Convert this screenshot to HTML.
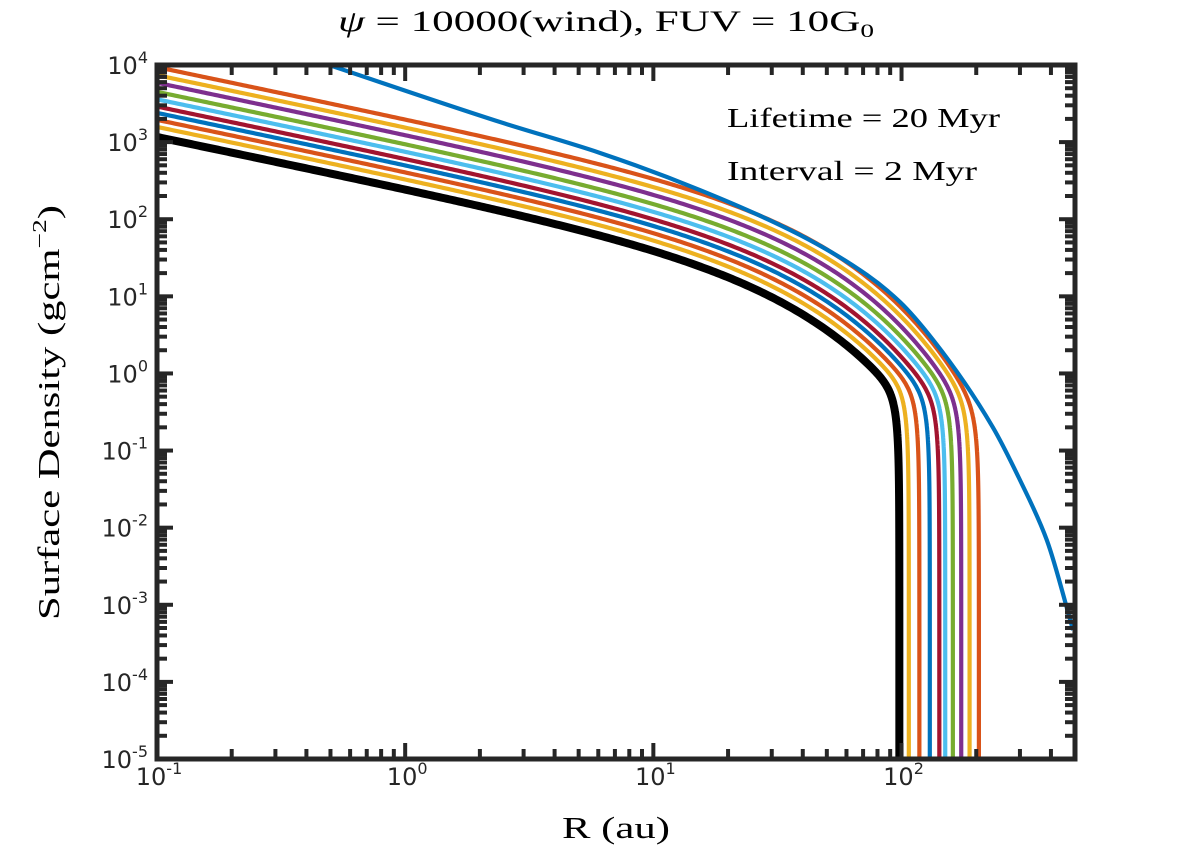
<!DOCTYPE html>
<html><head><meta charset="utf-8"><style>
html,body{margin:0;padding:0;background:#fff;overflow:hidden;width:1188px;height:860px;}
svg{display:block;}
.tk{font-family:"DejaVu Sans","Liberation Sans",sans-serif;font-size:24px;fill:#262626;}
.sr{font-family:"Liberation Serif",serif;fill:#000;}
</style></head><body>
<svg id="chart" width="1188" height="860" viewBox="0 0 1188 860" xmlns="http://www.w3.org/2000/svg">
<text class="sr" x="338" y="31" font-size="30" textLength="536" lengthAdjust="spacingAndGlyphs"><tspan font-style="italic">ψ</tspan> = 10000(wind), FUV = 10G<tspan font-size="19" dy="6">0</tspan></text>
<text class="sr" transform="translate(59,620) rotate(-90)" font-size="31" textLength="415" lengthAdjust="spacingAndGlyphs">Surface Density (gcm<tspan font-size="20" dy="-13">−2</tspan><tspan dy="13">)</tspan></text>
<text class="sr" x="562" y="838" font-size="31" textLength="108" lengthAdjust="spacingAndGlyphs">R (au)</text>
<g id="marks"></g>
<g id="axes"></g>
<text class="sr" x="727" y="127" font-size="27" textLength="273" lengthAdjust="spacingAndGlyphs">Lifetime = 20 Myr</text>
<text class="sr" x="727" y="180" font-size="27" textLength="250" lengthAdjust="spacingAndGlyphs">Interval = 2 Myr</text>
</svg>
<script>
// ---- data ----
const xTickExps = [-1, 0, 1, 2];
const yTickExps = [4, 3, 2, 1, 0, -1, -2, -3, -4, -5];
const curveNames = ["t0","t2","t4","t6","t8","t10","t12","t14","t16","t18"];
const sigmaInner = [1170, 1580, 1950, 2400, 2900, 3600, 4500, 5900, 7400, 9400]; // at R=0.1 au
const truncRadius = [98, 107, 118, 130, 142, 150, 161, 174, 188, 205];
const taperRadius = [31, 32, 33, 34, 35, 36, 37, 37.5, 38.5, 39];
const curveColors = ["#000000","#EDB120","#D95319","#0072BD","#A2142F","#4DBEEE","#77AC30","#7E2F8E","#EDB120","#D95319"];
const slope = 0.67, edgeSharpness = 20;
const windR = [0.467, 2.41, 6.10, 15.4, 39.0, 72.6, 98.6, 134, 233, 300, 385, 491];
const windSigma = [10600, 1820, 723, 239, 62.4, 18.9, 8.43, 2.72, 0.202, 0.0415, 0.0069, 0.00047];

// ---- axes functions ----
const L=157, R=1075, T=65, B=759;
const xMinE=-1, xMaxE=Math.log10(500), yMinE=-5, yMaxE=4;
const xs = r => L + (Math.log10(r)-xMinE)/(xMaxE-xMinE)*(R-L);
const ys = s => B - (Math.log10(s)-yMinE)/(yMaxE-yMinE)*(B-T);
const NS="http://www.w3.org/2000/svg";
function mk(tag, attrs, parent){const e=document.createElementNS(NS,tag);for(const k in attrs)e.setAttribute(k,attrs[k]);parent.appendChild(e);return e;}
const marks=document.getElementById('marks'), axes=document.getElementById('axes');

const defs=mk('defs',{},marks);
const cp=mk('clipPath',{id:'clip'},defs);
mk('rect',{x:L,y:T,width:R-L,height:B-T},cp);
const g=mk('g',{'clip-path':'url(#clip)'},marks);

function profile(i,r){
  const x=r/truncRadius[i];
  const edge=1-Math.pow(x,edgeSharpness);
  return sigmaInner[i]*Math.pow(r/0.1,-slope)*Math.exp(-r/taperRadius[i])*edge;
}
for(let i=0;i<sigmaInner.length;i++){
  let pts=[];
  const rt=truncRadius[i];
  for(let k=0;k<=300;k++){const r=0.1*Math.pow(rt*0.9/0.1,k/300);pts.push([r,profile(i,r)]);}
  for(let k=1;k<=400;k++){const r=rt*(0.9+0.1*(1-Math.pow(1-k/400,3)));const v=profile(i,r);if(v<=1e-7){pts.push([r,1e-7]);break;}pts.push([r,v]);}
  if(pts[pts.length-1][1]>1e-7)pts.push([rt,1e-7]);
  const d=pts.map((p,j)=>(j?'L':'M')+xs(p[0]).toFixed(2)+','+ys(p[1]).toFixed(2)).join('');
  const p=mk('path',{d:d,fill:'none',stroke:curveColors[i],'stroke-width':i===0?8:4.2,'stroke-linejoin':'round'},g);
  
  
}
// wind curve: monotone cubic interpolation in screen space
{
  const X=windR.map(xs), Y=windSigma.map(ys), n=X.length;
  const dl=[], m=[];
  for(let j=0;j<n-1;j++) dl.push((Y[j+1]-Y[j])/(X[j+1]-X[j]));
  m[0]=dl[0]; m[n-1]=dl[n-2];
  for(let j=1;j<n-1;j++){
    if(dl[j-1]*dl[j]<=0) m[j]=0;
    else { const h0=X[j]-X[j-1], h1=X[j+1]-X[j]; const w1=2*h1+h0, w2=h1+2*h0; m[j]=(w1+w2)/(w1/dl[j-1]+w2/dl[j]); }
  }
  let d='M'+X[0].toFixed(2)+','+Y[0].toFixed(2);
  for(let j=0;j<n-1;j++){
    const h=X[j+1]-X[j];
    d+='C'+(X[j]+h/3).toFixed(2)+','+(Y[j]+m[j]*h/3).toFixed(2)+' '+(X[j+1]-h/3).toFixed(2)+','+(Y[j+1]-m[j+1]*h/3).toFixed(2)+' '+X[j+1].toFixed(2)+','+Y[j+1].toFixed(2);
  }
  const w=mk('path',{d:d,fill:'none',stroke:'#0072BD','stroke-width':4.2},g);
  
  
}

const tc='#262626';
function tick(x1,y1,x2,y2,name){const t=mk('line',{x1,y1,x2,y2,stroke:tc,'stroke-width':4},axes);}
for(let e=xMinE;e<=3;e++){
  for(let mm=1;mm<=9;mm++){
    const r=mm*Math.pow(10,e); if(Math.log10(r)>xMaxE+1e-9)continue;
    const x=xs(r), len=mm===1?16:10;
    tick(x,B,x,B-len,'x-tick'); tick(x,T,x,T+len,'x-tick-top');
  }
}
for(let e=yMinE;e<=yMaxE;e++){
  for(let mm=1;mm<=9;mm++){
    const s=mm*Math.pow(10,e); if(Math.log10(s)>yMaxE+1e-9)continue;
    const y=ys(s), len=mm===1?16:10;
    tick(L,y,L+len,y,'y-tick'); tick(R,y,R-len,y,'y-tick-right');
  }
}
const frame=mk('rect',{x:L,y:T,width:R-L,height:B-T,fill:'none',stroke:tc,'stroke-width':5},axes);


xTickExps.forEach(e=>{
  const t=mk('text',{class:'tk',x:xs(Math.pow(10,e))+2,y:B+26,'text-anchor':'middle'},axes);
  
  
  t.innerHTML='10<tspan font-size="16" dy="-11">'+(e<0?'-':'')+Math.abs(e)+'</tspan>';
});
yTickExps.forEach(e=>{
  const t=mk('text',{class:'tk',x:L-9,y:ys(Math.pow(10,e))+9,'text-anchor':'end'},axes);
  
  
  t.innerHTML='10<tspan font-size="16" dy="-11">'+(e<0?'-':'')+Math.abs(e)+'</tspan>';
});
</script>
</body></html>
